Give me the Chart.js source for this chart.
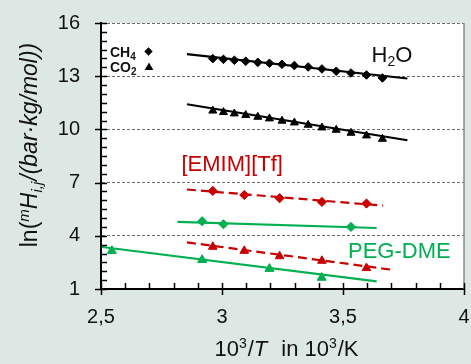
<!DOCTYPE html>
<html>
<head>
<meta charset="utf-8">
<script src="https://cdn.jsdelivr.net/npm/chart.js@4.4.1/dist/chart.umd.min.js"></script>
<style>
html,body{margin:0;padding:0;background:#dde8e5;}
#wrap{width:471px;height:364px;position:relative;}
</style>
</head>
<body>
<div id="wrap"><canvas id="c" width="471" height="364"></canvas></div>
<script>
// ---- data ----
const xTicksMajor = [2.5, 3, 3.5, 4];
const yTicksMajor = [1, 4, 7, 10, 13, 16];

// 10^3/T positions of the measured points
const xH2O = [2.962, 3.006, 3.051, 3.098, 3.148, 3.196, 3.248, 3.299, 3.356, 3.413, 3.472, 3.533, 3.597, 3.663];
const yH2O_CH4 = [13.99, 13.95, 13.90, 13.84, 13.78, 13.73, 13.67, 13.60, 13.52, 13.41, 13.28, 13.18, 13.07, 12.90];
const yH2O_CO2 = [11.05, 10.97, 10.89, 10.80, 10.70, 10.61, 10.48, 10.38, 10.25, 10.10, 9.97, 9.80, 9.65, 9.46];
const fitH2O_x = [2.855, 3.766];
const fitH2O_CH4 = [14.24, 12.87];
const fitH2O_CO2 = [11.42, 9.39];

const xEMIM = [2.962, 3.092, 3.238, 3.413, 3.597];
const yEMIM_CH4 = [6.53, 6.30, 6.12, 5.91, 5.82];
const yEMIM_CO2 = [3.38, 3.15, 2.85, 2.59, 2.18];
const fitEMIM_CH4_x = [2.855, 3.666];
const fitEMIM_CH4 = [6.61, 5.70];
const fitEMIM_CO2_x = [2.855, 3.700];
const fitEMIM_CO2 = [3.63, 2.09];

const xPEG_CH4 = [2.918, 3.006, 3.533];
const yPEG_CH4 = [4.82, 4.65, 4.50];
const xPEG_CO2 = [2.545, 2.918, 3.196, 3.412];
const yPEG_CO2 = [3.15, 2.64, 2.14, 1.64];
const fitPEG_CH4_x = [2.816, 3.639];
const fitPEG_CH4 = [4.78, 4.44];
const fitPEG_CO2_x = [2.504, 3.639];
const fitPEG_CO2 = [3.37, 1.43];

// ---- styles ----
const BLACK = '#000000', RED = '#c80000', GREEN = '#00b050';
const FONT = '"Liberation Sans", Arial, Helvetica, sans-serif';

function pts(xs, ys) { return xs.map((x, i) => ({x: x, y: ys[i]})); }
function markers(xs, ys, color, style, r) {
  return {data: pts(xs, ys), showLine: false, pointStyle: style, pointRadius: r,
    pointBackgroundColor: color, pointBorderColor: color, pointBorderWidth: 1, order: 0};
}
function fit(xs, ys, color, dash) {
  return {data: pts(xs, ys), showLine: true, pointRadius: 0, borderColor: color,
    borderWidth: 2.2, borderDash: dash || [], order: 1, fill: false};
}
function noPad(s) { s.paddingLeft = 0; s.paddingRight = 0; s.paddingTop = 0; s.paddingBottom = 0; }

const bgPlugin = {
  id: 'bg',
  beforeDraw(chart) {
    const ctx = chart.ctx, a = chart.chartArea;
    ctx.save();
    ctx.fillStyle = '#dde8e5';
    ctx.fillRect(0, 0, chart.width, chart.height);
    ctx.fillStyle = '#ffffff';
    ctx.fillRect(a.left, a.top, a.right - a.left, a.bottom - a.top);
    ctx.restore();
  }
};

function drawRich(ctx, pieces, x, y, align) {
  let w = 0;
  pieces.forEach(p => { ctx.font = p.font; w += ctx.measureText(p.t).width + (p.gap || 0); });
  let cx = align === 'center' ? x - w / 2 : (align === 'right' ? x - w : x);
  pieces.forEach(p => {
    ctx.font = p.font;
    ctx.fillStyle = p.color || '#111';
    ctx.fillText(p.t, cx, y + (p.dy || 0));
    cx += ctx.measureText(p.t).width + (p.gap || 0);
  });
}

const decoPlugin = {
  id: 'deco',
  afterDraw(chart) {
    const ctx = chart.ctx, a = chart.chartArea;
    const xs = chart.scales.x, ys = chart.scales.y;
    ctx.save();
    // right frame
    ctx.strokeStyle = '#8a8a8a';
    ctx.lineWidth = 1.5;
    ctx.beginPath();
    ctx.moveTo(a.right, a.top); ctx.lineTo(a.right, a.bottom);
    ctx.stroke();
    // ticks
    ctx.strokeStyle = '#000';
    ctx.lineWidth = 1.5;
    ys.ticks.forEach(t => {
      const py = Math.round(ys.getPixelForValue(t.value)) + 0.5;
      const major = yTicksMajor.some(v => Math.abs(v - t.value) < 1e-6);
      ctx.beginPath();
      ctx.moveTo(a.left - (major ? 6 : 0), py);
      ctx.lineTo(a.left + 6, py);
      ctx.stroke();
    });
    xs.ticks.forEach(t => {
      const px = Math.round(xs.getPixelForValue(t.value)) + 0.5;
      const major = xTicksMajor.some(v => Math.abs(v - t.value) < 1e-6);
      ctx.beginPath();
      ctx.moveTo(px, a.bottom + (major ? 6 : 0));
      ctx.lineTo(px, a.bottom - 6);
      ctx.stroke();
    });

    ctx.textBaseline = 'alphabetic';
    // legend (top-left)
    drawRich(ctx, [
      {t: 'CH', font: 'bold 14px ' + FONT, color: '#111'},
      {t: '4', font: 'bold 10px ' + FONT, dy: 3, color: '#111'}
    ], 110, 56.5, 'left');
    drawRich(ctx, [
      {t: 'CO', font: 'bold 14px ' + FONT, color: '#111'},
      {t: '2', font: 'bold 10px ' + FONT, dy: 3, color: '#111'}
    ], 110, 72, 'left');
    ctx.fillStyle = '#000';
    ctx.beginPath();
    const dx = 148.5, dy = 51.5, dr = 4.2;
    ctx.moveTo(dx - dr, dy); ctx.lineTo(dx, dy - dr); ctx.lineTo(dx + dr, dy); ctx.lineTo(dx, dy + dr);
    ctx.closePath(); ctx.fill();
    const tx = 149, ty = 67.5, tr = 5;
    ctx.beginPath();
    ctx.moveTo(tx, ty - tr); ctx.lineTo(tx + tr * 0.866, ty + tr * 0.5); ctx.lineTo(tx - tr * 0.866, ty + tr * 0.5);
    ctx.closePath(); ctx.fill();

    // series labels
    drawRich(ctx, [
      {t: 'H', font: '22px ' + FONT, color: '#111'},
      {t: '2', font: '14px ' + FONT, dy: 4, color: '#111'},
      {t: 'O', font: '22px ' + FONT, color: '#111'}
    ], 371.5, 62, 'left');
    drawRich(ctx, [{t: '[EMIM][Tf]', font: '22px ' + FONT, color: RED}], 181.5, 171, 'left');
    drawRich(ctx, [{t: 'PEG-DME', font: '22px ' + FONT, color: GREEN}], 348, 258, 'left');

    // x axis title
    drawRich(ctx, [
      {t: '10', font: '22px ' + FONT, color: '#111'},
      {t: '3', font: '14px ' + FONT, dy: -8, color: '#111', gap: 1},
      {t: '/', font: '22px ' + FONT, color: '#111'},
      {t: 'T', font: 'italic 22px ' + FONT, color: '#111', gap: 14},
      {t: 'in 10', font: '22px ' + FONT, color: '#111'},
      {t: '3', font: '14px ' + FONT, dy: -8, color: '#111', gap: 1},
      {t: '/K', font: '22px ' + FONT, color: '#111'}
    ], 286.5, 356, 'center');

    // y axis title (rotated)
    ctx.translate(29, 145);
    ctx.rotate(-Math.PI / 2);
    drawRich(ctx, [
      {t: 'ln(', font: '23px ' + FONT, color: '#111'},
      {t: 'm', font: 'italic 15px ' + FONT, dy: -8, color: '#111'},
      {t: 'H', font: 'italic 23px ' + FONT, color: '#111'},
      {t: 'i,j', font: 'italic 15px ' + FONT, dy: 5, color: '#111', gap: 1},
      {t: '/(bar', font: 'italic 23px ' + FONT, color: '#111'},
      {t: '\u00B7', font: 'italic 23px ' + FONT, color: '#111'},
      {t: 'kg/mol))', font: 'italic 23px ' + FONT, color: '#111'}
    ], 0, 8, 'center');
    ctx.restore();
  }
};

new Chart(document.getElementById('c'), {
  type: 'scatter',
  data: {
    datasets: [
      markers(xH2O, yH2O_CH4, BLACK, 'rectRot', 4.3),
      markers(xH2O, yH2O_CO2, BLACK, 'triangle', 4.6),
      markers(xEMIM, yEMIM_CH4, RED, 'rectRot', 4.6),
      markers(xEMIM, yEMIM_CO2, RED, 'triangle', 5),
      markers(xPEG_CH4, yPEG_CH4, GREEN, 'rectRot', 4.6),
      markers(xPEG_CO2, yPEG_CO2, GREEN, 'triangle', 5.2),
      fit(fitH2O_x, fitH2O_CH4, BLACK),
      fit(fitH2O_x, fitH2O_CO2, BLACK),
      fit(fitEMIM_CH4_x, fitEMIM_CH4, RED, [9, 5]),
      fit(fitEMIM_CO2_x, fitEMIM_CO2, RED, [9, 5]),
      fit(fitPEG_CH4_x, fitPEG_CH4, GREEN),
      fit(fitPEG_CO2_x, fitPEG_CO2, GREEN)
    ]
  },
  options: {
    responsive: false,
    animation: false,
    devicePixelRatio: 1,
    layout: {padding: {top: 23, right: 7, left: 0, bottom: 0}},
    plugins: {legend: {display: false}, tooltip: {enabled: false}, title: {display: false}},
    scales: {
      x: {
        type: 'linear', min: 2.5, max: 4,
        afterFit(s) { s.height = 75; noPad(s); },
        ticks: {
          stepSize: 0.1, autoSkip: false, maxRotation: 0, padding: 16,
          color: '#111', font: {family: FONT, size: 20},
          callback(v) {
            return xTicksMajor.some(m => Math.abs(m - v) < 1e-6) ? String(+v.toFixed(1)).replace('.', ',') : '';
          }
        },
        grid: {display: true, drawOnChartArea: false, drawTicks: false},
        border: {display: true, color: '#000', width: 2}
      },
      y: {
        type: 'linear', min: 1, max: 16,
        afterFit(s) { s.width = 101; noPad(s); },
        ticks: {
          stepSize: 0.5, autoSkip: false, padding: 21,
          color: '#111', font: {family: FONT, size: 20},
          callback(v) {
            return yTicksMajor.some(m => Math.abs(m - v) < 1e-6) ? String(v) : '';
          }
        },
        grid: {
          drawTicks: false, lineWidth: 1,
          color(c) {
            const v = c.tick ? c.tick.value : null;
            return (v !== null && v > 1 && yTicksMajor.some(m => Math.abs(m - v) < 1e-6)) ? '#6e6e6e' : 'rgba(0,0,0,0)';
          }
        },
        border: {display: true, color: '#000', width: 2, dash: [3, 2]}
      }
    }
  },
  plugins: [bgPlugin, decoPlugin]
});
</script>
</body>
</html>
